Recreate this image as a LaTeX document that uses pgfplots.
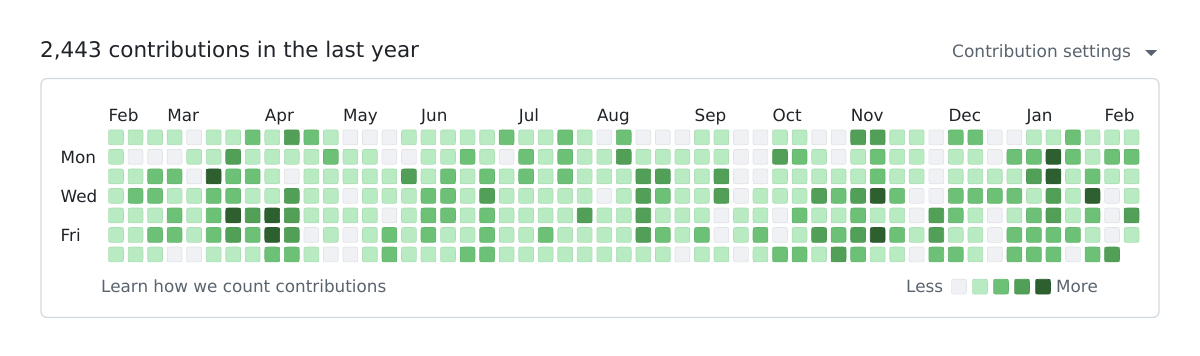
\documentclass[border=0pt]{standalone}
\usepackage{pgfplots}
\pgfplotsset{compat=1.18}
\usepackage{pgfplotstable}
\usepackage{fontspec}
\setmainfont{DejaVu Sans}

\definecolor{c0}{HTML}{EFF1F4}
\definecolor{c1}{HTML}{B8EBC1}
\definecolor{c2}{HTML}{6CC176}
\definecolor{c3}{HTML}{52A058}
\definecolor{c4}{HTML}{2D5F2F}
\definecolor{fg}{HTML}{1F2328}
\definecolor{muted}{HTML}{59636E}
\definecolor{boxc}{HTML}{D1D9E0}

\tikzset{
  lab/.style={anchor=base west, inner sep=0pt, text=fg, font=\fontsize{16.8}{19}\selectfont},
  mut/.style={anchor=base west, inner sep=0pt, text=muted, font=\fontsize{16.8}{19}\selectfont},
}

\newdimen\rs \newdimen\rr
\pgfdeclareplotmark{rsq}{%
  \rs=\pgfplotmarksize \rr=\pgfplotmarksize \advance\rr by -3pt
  \pgfpathmoveto{\pgfqpoint{-\rs}{0pt}}%
  \pgfpathlineto{\pgfqpoint{-\rs}{\rr}}%
  \pgfpathcurveto{\pgfqpoint{-\rs}{\rs}}{\pgfqpoint{-\rs}{\rs}}{\pgfqpoint{-\rr}{\rs}}%
  \pgfpathlineto{\pgfqpoint{\rr}{\rs}}%
  \pgfpathcurveto{\pgfqpoint{\rs}{\rs}}{\pgfqpoint{\rs}{\rs}}{\pgfqpoint{\rs}{\rr}}%
  \pgfpathlineto{\pgfqpoint{\rs}{-\rr}}%
  \pgfpathcurveto{\pgfqpoint{\rs}{-\rs}}{\pgfqpoint{\rs}{-\rs}}{\pgfqpoint{\rr}{-\rs}}%
  \pgfpathlineto{\pgfqpoint{-\rr}{-\rs}}%
  \pgfpathcurveto{\pgfqpoint{-\rs}{-\rs}}{\pgfqpoint{-\rs}{-\rs}}{\pgfqpoint{-\rs}{-\rr}}%
  \pgfpathclose
  \pgfusepathqfillstroke
}

% week column c, weekday rows d0 (Sun) ... d6 (Sat); level 0-4, n = no day
\pgfplotstableread{
c d0 d1 d2 d3 d4 d5 d6
0 1 1 1 1 1 1 1
1 1 0 1 2 1 1 1
2 1 0 2 2 1 2 1
3 1 0 2 1 2 2 0
4 0 1 0 1 1 1 0
5 1 1 4 2 2 2 1
6 1 3 2 2 4 3 1
7 2 1 2 1 3 2 1
8 1 1 1 1 4 4 2
9 3 1 0 3 3 3 2
10 2 1 1 1 1 0 1
11 1 2 1 1 1 1 0
12 0 1 1 0 1 0 0
13 0 1 1 1 1 1 1
14 0 0 1 1 0 2 2
15 1 0 3 1 1 1 1
16 1 1 1 2 2 2 1
17 1 1 2 2 2 1 1
18 1 2 1 1 1 1 2
19 1 1 2 3 2 2 2
20 2 0 1 1 1 1 1
21 1 2 2 1 1 1 1
22 1 1 1 1 1 2 1
23 2 2 2 1 1 1 1
24 1 1 1 1 3 1 1
25 0 1 1 0 1 1 1
26 2 3 1 1 1 1 1
27 0 1 3 3 3 3 1
28 0 1 3 2 1 2 1
29 0 1 1 1 1 1 0
30 1 1 1 1 1 2 1
31 1 1 3 3 0 0 1
32 0 0 0 0 1 1 0
33 0 0 0 1 1 2 1
34 1 3 1 1 0 0 2
35 1 2 1 1 2 1 2
36 0 1 1 3 1 3 1
37 0 0 1 2 1 2 3
38 3 1 1 3 2 3 2
39 3 2 2 4 1 4 1
40 1 1 1 2 1 2 1
41 1 1 1 0 0 1 0
42 0 0 0 0 3 3 2
43 2 1 1 2 2 1 2
44 2 1 1 2 1 1 1
45 0 0 1 2 0 0 0
46 0 2 1 2 1 2 2
47 1 2 3 1 2 2 2
48 1 4 4 3 3 2 2
49 2 2 1 1 1 2 0
50 1 1 2 4 2 1 2
51 1 2 1 0 0 0 3
52 1 2 1 1 3 1 n
}\grid

\begin{document}
\begin{tikzpicture}
\begin{axis}[
  width=1200pt, height=356pt, scale only axis,
  xmin=0, xmax=1200, ymin=0, ymax=356, y dir=reverse,
  axis lines=none, clip=false,
  cell/.style={scatter, only marks, mark=rsq, mark size=7.4pt, line width=0.7pt,
    point meta=explicit symbolic,
    scatter/classes={
      0={draw=c0!94!black, fill=c0},
      1={draw=c1!94!black, fill=c1},
      2={draw=c2!94!black, fill=c2},
      3={draw=c3!94!black, fill=c3},
      4={draw=c4!94!black, fill=c4},
      n={draw=white, fill=white}}},
]
\path (axis cs:0,0) rectangle (axis cs:1200,356);
% frame
\draw[draw=boxc, line width=1.2pt, rounded corners=6pt] (axis cs:41,78.5) rectangle (axis cs:1159,317.5);

% grid of days
\pgfplotsinvokeforeach{0,...,6}{
  \addplot[cell] table[x expr=116+19.53*\thisrow{c}, y expr=137.3+19.53*#1, meta=d#1] {\grid};
}
% legend scale
\addplot[cell] coordinates {(959,286.7)[0] (980,286.7)[1] (1001,286.7)[2] (1022,286.7)[3] (1043,286.7)[4]};

% texts
\node[anchor=base west, inner sep=0pt, text=fg, font=\fontsize{21.5}{25}\selectfont] at (axis cs:40,57) {2,443 contributions in the last year};
\node[anchor=base west, inner sep=0pt, text=muted, font=\fontsize{17}{20}\selectfont] at (axis cs:952,57.5) {Contribution settings};
\fill[muted] (axis cs:1145,50) -- (axis cs:1157,50) -- (axis cs:1151,56) -- cycle;

\node[lab] at (axis cs:108.5,121.5) {Feb};
\node[lab] at (axis cs:167.1,121.5) {Mar};
\node[lab] at (axis cs:264.7,121.5) {Apr};
\node[lab] at (axis cs:342.9,121.5) {May};
\node[lab] at (axis cs:421.0,121.5) {Jun};
\node[lab] at (axis cs:518.6,121.5) {Jul};
\node[lab] at (axis cs:596.8,121.5) {Aug};
\node[lab] at (axis cs:694.4,121.5) {Sep};
\node[lab] at (axis cs:772.5,121.5) {Oct};
\node[lab] at (axis cs:850.6,121.5) {Nov};
\node[lab] at (axis cs:948.3,121.5) {Dec};
\node[lab] at (axis cs:1026.4,121.5) {Jan};
\node[lab] at (axis cs:1104.5,121.5) {Feb};

\node[lab] at (axis cs:60.5,163) {Mon};
\node[lab] at (axis cs:60.5,202) {Wed};
\node[lab] at (axis cs:60.5,241) {Fri};

\node[mut] at (axis cs:101,292.5) {Learn how we count contributions};
\node[mut] at (axis cs:906,292.5) {Less};
\node[mut] at (axis cs:1056,292.5) {More};
\end{axis}
\end{tikzpicture}
\end{document}
